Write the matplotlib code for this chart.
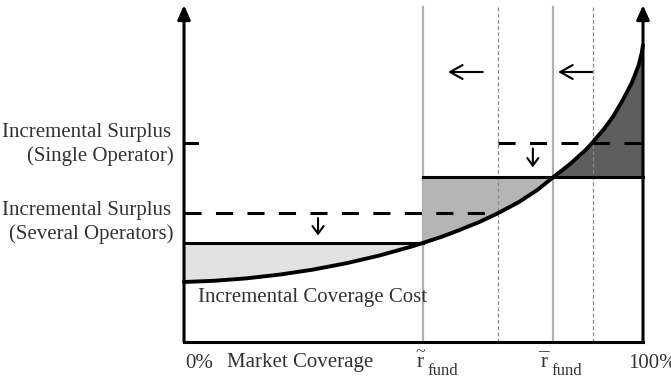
import numpy as np
import matplotlib.pyplot as plt

# market coverage (%) and incremental coverage cost (arbitrary units)
coverage = [0, 6.5, 13.5, 21, 28, 35.5, 42.5, 50, 52, 56, 60, 64.5, 68.5, 73, 77,
            80.5, 84, 87.5, 89, 91.5, 93.5, 95.5, 97.5, 99, 99.7, 100]
cost = [20, 20.4, 21.2, 22.5, 24.1, 26.3, 28.8, 32.0, 33, 35.0, 37.3, 40.1, 43, 46.7, 50.7,
        55, 59.2, 64.0, 66.5, 71.0, 75.2, 80.4, 86.2, 92.0, 96.2, 99]

# surplus levels
surplus_several = 33
surplus_single = 55
surplus_several_new = 43
surplus_single_new = 66.5

# coverage thresholds
r_tilde = 52
r_tilde_new = 68.5
r_bar = 80.5
r_bar_new = 89

top = 112.3


def arrow(ax, x0, y0, x1, y1, style, lw):
    ax.annotate('', xy=(x1, y1), xytext=(x0, y0),
                arrowprops=dict(arrowstyle=style, lw=lw, color='black',
                                shrinkA=0, shrinkB=0, mutation_scale=10))


def main():
    plt.rcParams['font.family'] = ['Liberation Serif', 'DejaVu Serif']

    fig = plt.figure(figsize=(6.71, 3.84), dpi=100)
    ax = fig.add_axes([0, 0, 1, 1])
    ax.set_xlim(-40.09, 106.1)
    ax.set_ylim(-14, 114)
    ax.axis('off')

    x = np.array(coverage)
    y = np.array(cost)

    # shaded areas
    m1 = x <= r_tilde
    ax.fill_between(x[m1], y[m1], surplus_several, color='#e2e2e2', lw=0)
    m2 = (x >= r_tilde) & (x <= r_bar)
    ax.fill_between(x[m2], y[m2], surplus_single, color='#b5b5b5', lw=0)
    m3 = x >= r_bar
    ax.fill_between(x[m3], y[m3], surplus_single, color='#5e5e5e', lw=0)

    # threshold lines
    for xv in (r_tilde, r_bar):
        ax.plot([xv, xv], [0, top - 0.6], color='#b0b0b0', lw=1.6, zorder=2)
    for xv in (r_tilde_new, r_bar_new):
        ax.plot([xv, xv], [0, top], color='#888888', lw=0.9,
                dashes=(3, 2), zorder=2)

    # surplus levels
    ax.plot([0, r_tilde], [surplus_several] * 2, color='black', lw=2.2, zorder=3)
    ax.plot([r_tilde, 100], [surplus_single] * 2, color='black', lw=2.2, zorder=3)
    ax.plot([0, r_tilde_new], [surplus_several_new] * 2, color='black', lw=2.2,
            dashes=(5.6, 4.7), zorder=3)
    ax.plot([r_tilde_new, 100], [surplus_single_new] * 2, color='black', lw=2.2,
            dashes=(5.6, 4.7), zorder=3)
    ax.plot([0, 2.8], [surplus_single_new] * 2, color='black', lw=2.2, zorder=3)

    # cost curve
    ax.plot(x, y, color='black', lw=2.8, zorder=4, solid_joinstyle='round',
            solid_capstyle='round')

    # axes
    ax.plot([0, 100], [0, 0], color='black', lw=2.2, zorder=5,
            solid_capstyle='projecting')
    arrow(ax, 0, 0, 0, top, '-|>,head_length=0.85,head_width=0.38', 2.2)
    arrow(ax, 100, 0, 100, top, '-|>,head_length=0.85,head_width=0.38', 2.2)

    # shift arrows
    arrow(ax, 65.1, 90, 57.5, 90, '->,head_length=0.9,head_width=0.5', 1.5)
    arrow(ax, 88.9, 90, 81.5, 90, '->,head_length=0.9,head_width=0.5', 1.5)
    arrow(ax, 29.2, 41.3, 29.2, 35.5, '->,head_length=0.55,head_width=0.4', 1.5)
    arrow(ax, 76, 64.5, 76, 58.2, '->,head_length=0.55,head_width=0.4', 1.5)

    fs = 15
    c = '#333333'
    ax.text(-2.8, 69.7, 'Incremental Surplus', ha='right', va='center', fontsize=fs, color=c)
    ax.text(-2.3, 61.8, '(Single Operator)', ha='right', va='center', fontsize=fs, color=c)
    ax.text(-2.8, 43.7, 'Incremental Surplus', ha='right', va='center', fontsize=fs, color=c)
    ax.text(-2.3, 36.0, '(Several Operators)', ha='right', va='center', fontsize=fs, color=c)
    ax.text(3.0, 14.7, 'Incremental Coverage Cost', ha='left', va='center', fontsize=fs, color=c)

    ax.text(0.2, -7, '0%', ha='left', va='center', fontsize=fs, color=c)
    ax.text(9.3, -7, 'Market Coverage', ha='left', va='center', fontsize=fs, color=c)

    ax.text(51.4, -6.7, 'r', ha='center', va='center', fontsize=fs, color=c)
    ax.text(51.4, -3.6, '~', ha='center', va='center', fontsize=13, color=c)
    ax.text(53.0, -9.7, 'fund', ha='left', va='center', fontsize=12, color=c)

    ax.text(78.4, -6.7, 'r', ha='center', va='center', fontsize=fs, color=c)
    ax.text(78.4, -6.7, '\u00af', ha='center', va='center', fontsize=fs, color=c)
    ax.text(80.0, -9.7, 'fund', ha='left', va='center', fontsize=12, color=c)

    ax.text(96.7, -7, '100%', ha='left', va='center', fontsize=fs, color=c)

    plt.savefig('out.png', dpi=100)


if __name__ == "__main__":
    main()
